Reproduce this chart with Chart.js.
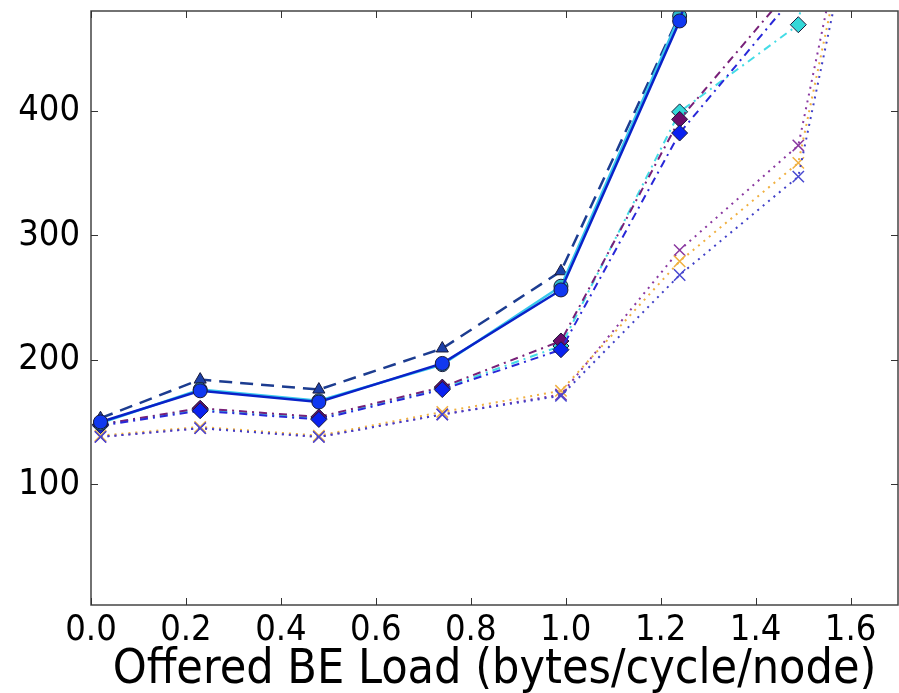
<!DOCTYPE html>
<html lang="en">
<head>
<meta charset="UTF-8">
<title>Offered BE Load</title>
<script src="https://cdn.jsdelivr.net/npm/chart.js"></script>
<style>
  html, body { margin: 0; padding: 0; background: #fff; }
  #wrap { width: 899px; height: 693px; }
</style>
</head>
<body>
<div id="wrap"><canvas id="chart"></canvas></div>
<script>
// offered load per run
const loads = [0.02, 0.23, 0.48, 0.74, 0.99, 1.24, 1.49, 1.74];

// solid / dashed groups
const solidBlue = [150, 175, 166, 197, 256, 472, 800];
const solidCyan = [149, 176, 167, 196, 259, 476, 810];
const dashedNavy = [153, 184, 176, 209, 271, 477, 830];

// dash-dot groups (diamonds)
const dashDotBlue = [147, 159, 152, 176, 208, 382, 496, 900];
const dashDotPurple = [148, 161, 154, 178, 215, 393, 505, 900];
const dashDotCyan = [148, 160, 153, 177, 211, 399, 469, 1150];

// dotted groups (crosses)
const dottedBlue = [138, 145, 138, 156, 171, 268, 347, 800];
const dottedOrange = [139, 146, 139, 158, 175, 279, 358, 810];
const dottedPurple = [138, 145, 138, 156, 172, 288, 372, 830];

const xTicks = [0, 0.2, 0.4, 0.6, 0.8, 1.0, 1.2, 1.4, 1.6];
const yTicks = [100, 200, 300, 400];

const FONT = "'DejaVu Sans Condensed', 'DejaVu Sans', sans-serif";

function pts(vals) {
    return vals.map((v, i) => ({ x: loads[i], y: v }));
}

function series(vals, opts) {
    return Object.assign({
        data: pts(vals),
        fill: false,
        tension: 0,
        borderWidth: 2,
        pointBorderWidth: 1,
        pointBorderColor: '#1a1a3a',
        pointRadius: 7
    }, opts);
}

// first dataset is drawn on top
const datasets = [
    series(solidBlue, { borderColor: '#0a22c8', borderWidth: 2.5, pointStyle: 'circle', pointBackgroundColor: '#1038f0' }),
    series(solidCyan, { borderColor: '#38c8ec', borderWidth: 2.5, pointStyle: 'circle', pointBackgroundColor: '#30b8c8' }),
    series(dashedNavy, { borderColor: '#1c3c90', borderWidth: 2.5, borderDash: [13, 8], pointStyle: 'triangle', pointBackgroundColor: '#1c40a8' }),
    series(dashDotBlue, { borderColor: '#2828d8', borderDash: [8, 5, 2, 5], pointStyle: 'rectRot', pointRadius: 8, pointBackgroundColor: '#0a22f0' }),
    series(dashDotPurple, { borderColor: '#782078', borderDash: [8, 5, 2, 5], pointStyle: 'rectRot', pointRadius: 8, pointBackgroundColor: '#6a0c6a' }),
    series(dashDotCyan, { borderColor: '#44dce6', borderDash: [8, 5, 2, 5], pointStyle: 'rectRot', pointRadius: 8, pointBackgroundColor: '#34d8d8' }),
    series(dottedBlue, { borderColor: '#4040c8', borderDash: [2, 5], pointStyle: 'crossRot', pointRadius: 8, pointBorderColor: '#4848d0', pointBorderWidth: 1.5 }),
    series(dottedOrange, { borderColor: '#f0b040', borderDash: [2, 5], pointStyle: 'crossRot', pointRadius: 8, pointBorderColor: '#f0b040', pointBorderWidth: 1.5 }),
    series(dottedPurple, { borderColor: '#8a38a0', borderDash: [2, 5], pointStyle: 'crossRot', pointRadius: 8, pointBorderColor: '#8a38a0', pointBorderWidth: 1.5 })
];

// matplotlib style frame with inward ticks
const framePlugin = {
    id: 'frame',
    afterDraw(chart) {
        const ctx = chart.ctx;
        const a = chart.chartArea;
        const xs = chart.scales.x, ys = chart.scales.y;
        ctx.save();
        ctx.strokeStyle = '#444';
        ctx.lineWidth = 1.5;
        ctx.strokeRect(a.left, a.top, a.right - a.left, a.bottom - a.top);
        ctx.lineWidth = 1;
        ctx.strokeStyle = '#333';
        ctx.beginPath();
        xTicks.forEach(t => {
            const px = Math.round(xs.getPixelForValue(t)) + 0.5;
            ctx.moveTo(px, a.bottom); ctx.lineTo(px, a.bottom - 7);
            ctx.moveTo(px, a.top); ctx.lineTo(px, a.top + 7);
        });
        yTicks.forEach(t => {
            const py = Math.round(ys.getPixelForValue(t)) + 0.5;
            ctx.moveTo(a.left, py); ctx.lineTo(a.left + 7, py);
            ctx.moveTo(a.right, py); ctx.lineTo(a.right - 7, py);
        });
        ctx.stroke();
        ctx.restore();
    }
};

new Chart(document.getElementById('chart'), {
    type: 'line',
    data: { datasets: datasets },
    options: {
        responsive: true,
        maintainAspectRatio: false,
        animation: false,
        layout: { autoPadding: false, padding: { top: 11, right: 1, left: 0, bottom: 0 } },
        plugins: { legend: { display: false }, tooltip: { enabled: false } },
        scales: {
            x: {
                type: 'linear',
                min: 0,
                max: 1.7,
                grid: { display: false, drawTicks: false },
                border: { display: false },
                afterBuildTicks: s => { s.ticks = xTicks.map(v => ({ value: v })); },
                afterFit: s => { s.height = 88; s.paddingLeft = 0; s.paddingRight = 0; },
                ticks: {
                    color: '#000',
                    padding: 4,
                    maxRotation: 0,
                    font: { family: FONT, size: 36 },
                    callback: v => Number(v).toFixed(1)
                },
                title: {
                    display: true,
                    text: 'Offered BE Load (bytes/cycle/node)',
                    color: '#000',
                    padding: { top: 0, bottom: -6 },
                    font: { family: FONT, size: 48 }
                }
            },
            y: {
                type: 'linear',
                min: 3,
                max: 480,
                grid: { display: false, drawTicks: false },
                border: { display: false },
                afterBuildTicks: s => { s.ticks = yTicks.map(v => ({ value: v })); },
                afterFit: s => { s.width = 91; s.paddingTop = 0; s.paddingBottom = 0; },
                ticks: {
                    color: '#000',
                    padding: 11,
                    font: { family: FONT, size: 36 }
                }
            }
        }
    },
    plugins: [framePlugin]
});
</script>
</body>
</html>
